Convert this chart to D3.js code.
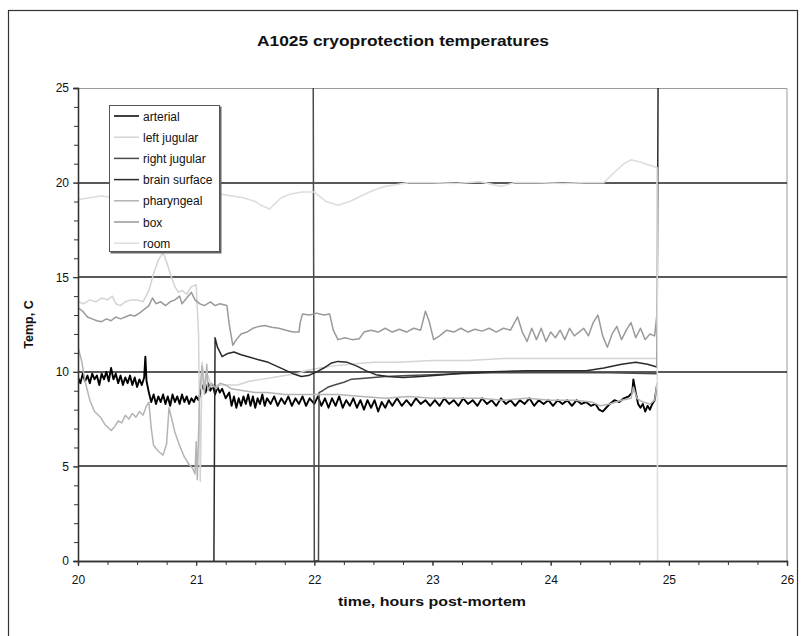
<!DOCTYPE html>
<html>
<head>
<meta charset="utf-8">
<script src="https://cdn.jsdelivr.net/npm/d3@7"></script>
<style>
  body { margin: 0; background: #fff; }
  text { font-family: "Liberation Sans", Arial, sans-serif; fill: #111; }
</style>
</head>
<body>
<div id="chart"></div>
<script>
// series names in legend order
var seriesNames = ["arterial", "left jugular", "right jugular", "brain surface", "pharyngeal", "box", "room"];

// [hours post-mortem, temp C]
var arterial = [[20.00,9.7],[20.02,9.4],[20.04,9.9],[20.06,9.5],[20.08,9.8],[20.10,9.4],[20.12,9.9],[20.14,9.6],[20.16,9.8],[20.18,9.3],
  [20.20,9.9],[20.22,9.6],[20.24,10.0],[20.26,9.5],[20.28,10.2],[20.30,9.6],[20.32,9.9],[20.34,9.4],[20.36,9.8],[20.38,9.3],
  [20.40,9.7],[20.42,9.4],[20.44,9.8],[20.46,9.3],[20.48,9.7],[20.50,9.2],[20.52,9.6],[20.54,9.3],[20.56,9.7],[20.57,10.8],
  [20.58,9.5],[20.60,8.9],[20.62,8.4],[20.64,8.8],[20.66,8.3],[20.68,8.7],[20.70,8.4],[20.72,8.8],[20.74,8.3],[20.76,8.7],
  [20.78,8.2],[20.80,8.8],[20.82,8.4],[20.84,8.7],[20.86,8.3],[20.88,8.8],[20.90,8.4],[20.92,8.7],[20.94,8.3],[20.96,8.6],
  [20.98,8.4],[21.00,8.7],[21.02,8.5],[21.04,9.0],[21.06,9.3],[21.08,8.9],[21.10,9.4],[21.12,9.0],[21.14,9.3],[21.16,8.8],
  [21.18,9.2],[21.20,8.9],[21.22,9.1],[21.25,8.6],[21.28,8.9],[21.30,8.2],[21.32,8.7],[21.34,8.1],[21.36,8.6],[21.38,8.2],
  [21.40,8.7],[21.42,8.3],[21.44,8.8],[21.46,8.2],[21.48,8.7],[21.50,8.1],[21.52,8.6],[21.54,8.3],[21.56,8.8],[21.58,8.2],
  [21.60,8.6],[21.63,8.3],[21.66,8.7],[21.69,8.2],[21.72,8.6],[21.75,8.3],[21.78,8.7],[21.81,8.2],[21.84,8.6],[21.87,8.3],
  [21.90,8.7],[21.93,8.2],[21.96,8.6],[22.00,8.3],[22.03,8.7],[22.06,8.2],[22.09,8.6],[22.12,8.1],[22.15,8.6],[22.18,8.2],
  [22.21,8.7],[22.24,8.1],[22.27,8.5],[22.30,8.2],[22.33,8.6],[22.36,8.1],[22.39,8.5],[22.42,8.0],[22.45,8.5],[22.48,8.1],
  [22.51,8.5],[22.54,7.9],[22.57,8.4],[22.60,8.1],[22.63,8.5],[22.66,8.2],[22.70,8.6],[22.74,8.2],[22.78,8.5],[22.82,8.2],
  [22.86,8.6],[22.90,8.3],[22.94,8.5],[22.98,8.2],[23.02,8.5],[23.06,8.2],[23.10,8.6],[23.14,8.3],[23.18,8.5],[23.22,8.2],
  [23.26,8.6],[23.30,8.3],[23.34,8.5],[23.38,8.2],[23.42,8.6],[23.46,8.3],[23.50,8.5],[23.54,8.2],[23.58,8.6],[23.62,8.3],
  [23.66,8.5],[23.70,8.2],[23.74,8.5],[23.78,8.3],[23.82,8.6],[23.86,8.2],[23.90,8.5],[23.94,8.3],[23.98,8.5],[24.02,8.2],
  [24.06,8.5],[24.10,8.3],[24.14,8.5],[24.18,8.2],[24.22,8.5],[24.26,8.3],[24.30,8.4],[24.34,8.2],[24.38,8.3],[24.41,8.0],
  [24.44,7.9],[24.47,8.1],[24.50,8.3],[24.54,8.5],[24.58,8.4],[24.62,8.6],[24.66,8.7],[24.69,8.9],[24.70,9.6],[24.72,8.9],
  [24.74,8.3],[24.76,8.1],[24.78,8.3],[24.80,7.9],[24.82,8.2],[24.84,8.0],[24.86,8.3],[24.88,8.5],[24.90,9.3]];

var leftJugular = [[20.00,13.7],[20.05,13.6],[20.10,13.8],[20.15,13.7],[20.20,13.9],[20.25,13.8],[20.29,14.0],[20.32,13.6],
  [20.36,13.5],[20.40,13.7],[20.45,13.8],[20.50,13.8],[20.55,13.7],[20.60,14.3],[20.64,15.2],[20.68,15.9],[20.72,16.3],
  [20.75,15.8],[20.78,15.2],[20.82,14.5],[20.85,14.2],[20.88,14.3],[20.92,14.1],[20.96,14.5],[21.00,14.6],[21.02,12.0],
  [21.035,4.2],[21.05,10.5],[21.07,9.4],[21.10,9.8],[21.13,9.2],[21.18,9.3],[21.25,9.3],[21.35,9.3],[21.45,9.5],[21.55,9.6],
  [21.65,9.7],[21.75,9.8],[21.85,9.9],[21.95,10.1],[22.05,10.2],[22.15,10.3],[22.30,10.4],[22.50,10.5],[22.70,10.5],
  [23.00,10.6],[23.30,10.6],[23.60,10.7],[24.00,10.7],[24.30,10.7],[24.60,10.7],[24.90,10.7]];

var rightJugular = [[21.99,27],[22.00,0],[22.035,0],[22.04,8.9],[22.07,9.0],[22.12,9.2],[22.17,9.3],[22.25,9.45],[22.31,9.6],
  [22.40,9.65],[22.50,9.7],[22.60,9.75],[22.80,9.8],[23.00,9.85],[23.20,9.9],[23.50,9.95],[24.00,9.95],[24.50,9.95],[24.90,9.9]];

var brainSurface = [[21.15,0],[21.16,11.8],[21.18,11.3],[21.22,10.8],[21.26,10.95],[21.32,11.05],[21.38,10.9],[21.44,10.8],
  [21.52,10.65],[21.61,10.5],[21.68,10.3],[21.75,10.1],[21.82,9.9],[21.89,9.75],[21.95,9.8],[22.02,10.0],[22.08,10.2],
  [22.14,10.45],[22.20,10.55],[22.28,10.5],[22.36,10.3],[22.44,10.05],[22.52,9.85],[22.62,9.75],[22.75,9.7],[22.90,9.75],
  [23.10,9.85],[23.30,9.95],[23.50,10.0],[23.80,10.05],[24.10,10.05],[24.30,10.05],[24.45,10.2],[24.60,10.4],[24.72,10.5],
  [24.82,10.4],[24.90,10.25],[24.91,27]];

var pharyngeal = [[20.00,11.3],[20.03,10.6],[20.06,9.5],[20.10,8.5],[20.14,7.9],[20.19,7.6],[20.23,7.2],[20.28,6.9],[20.31,7.1],
  [20.34,7.4],[20.37,7.3],[20.40,7.7],[20.43,7.5],[20.46,7.8],[20.49,7.6],[20.52,7.9],[20.55,7.7],[20.58,8.2],[20.60,8.4],
  [20.62,7.0],[20.64,6.1],[20.68,5.8],[20.72,5.6],[20.75,6.2],[20.77,8.1],[20.79,7.6],[20.82,6.8],[20.86,6.1],[20.90,5.5],
  [20.94,5.1],[20.97,4.9],[20.99,4.6],[21.00,6.3],[21.01,4.3],[21.03,9.0],[21.05,10.3],[21.07,8.8],[21.09,10.4],[21.10,9.0],
  [21.13,9.4],[21.17,9.1],[21.20,9.4],[21.25,9.3],[21.30,9.1],[21.40,9.0],[21.50,8.9],[21.60,8.9],[21.75,8.8],[21.90,8.8],
  [22.00,8.8],[22.20,8.8],[22.40,8.7],[22.60,8.6],[22.80,8.7],[23.00,8.6],[23.20,8.6],[23.40,8.6],[23.60,8.5],[23.80,8.6],
  [24.00,8.5],[24.20,8.5],[24.35,8.4],[24.42,8.2],[24.50,8.3],[24.60,8.5],[24.68,8.6],[24.70,9.2],[24.73,8.6],[24.78,8.4],
  [24.84,8.3],[24.88,8.5],[24.90,9.4]];

var box = [[20.00,13.4],[20.04,13.2],[20.08,12.9],[20.12,12.8],[20.16,12.7],[20.20,12.65],[20.24,12.8],[20.28,12.7],[20.32,12.9],
  [20.36,12.8],[20.40,12.9],[20.44,13.0],[20.48,12.95],[20.52,13.1],[20.56,13.3],[20.60,13.5],[20.63,13.9],[20.66,13.6],
  [20.70,13.7],[20.74,13.5],[20.78,13.7],[20.82,13.8],[20.86,14.0],[20.88,13.6],[20.92,13.9],[20.96,14.2],[20.99,13.8],
  [21.03,13.6],[21.07,13.5],[21.12,13.7],[21.16,13.5],[21.20,13.6],[21.26,13.5],[21.28,12.5],[21.31,11.4],[21.34,11.7],
  [21.38,12.0],[21.43,12.1],[21.48,12.3],[21.53,12.4],[21.58,12.45],[21.64,12.35],[21.70,12.3],[21.76,12.2],[21.82,12.1],
  [21.87,12.1],[21.88,12.6],[21.90,13.05],[21.96,13.0],[22.02,13.1],[22.08,13.0],[22.13,13.05],[22.16,12.2],[22.20,11.7],
  [22.26,11.8],[22.32,11.7],[22.38,11.75],[22.42,12.1],[22.48,12.2],[22.54,12.1],[22.60,12.3],[22.66,12.1],[22.72,12.25],
  [22.78,12.1],[22.84,12.3],[22.90,12.2],[22.94,13.2],[22.97,12.7],[23.01,11.7],[23.06,11.9],[23.12,12.2],[23.18,12.1],
  [23.24,12.3],[23.30,12.1],[23.36,12.25],[23.42,12.15],[23.48,12.3],[23.54,12.1],[23.60,12.3],[23.66,12.2],[23.72,12.9],
  [23.76,12.1],[23.80,11.6],[23.84,12.3],[23.88,11.7],[23.92,12.3],[23.96,11.6],[24.00,12.1],[24.04,11.8],[24.08,12.2],
  [24.12,11.7],[24.16,12.3],[24.20,11.9],[24.24,12.1],[24.28,12.3],[24.32,11.9],[24.36,12.6],[24.40,13.0],[24.44,11.9],
  [24.48,11.3],[24.52,12.0],[24.56,12.4],[24.60,11.7],[24.64,12.2],[24.68,12.6],[24.72,11.8],[24.76,12.3],[24.80,11.7],
  [24.84,12.0],[24.88,11.9],[24.90,13.1]];

var room = [[20.00,19.1],[20.10,19.2],[20.20,19.3],[20.30,19.2],[20.40,19.4],[20.50,19.3],[20.60,19.5],[20.70,19.4],[20.80,19.5],
  [21.00,19.5],[21.10,19.3],[21.20,19.4],[21.30,19.3],[21.40,19.2],[21.50,19.0],[21.55,18.8],[21.62,18.6],[21.67,18.9],
  [21.72,19.2],[21.80,19.4],[21.90,19.5],[22.00,19.5],[22.10,19.0],[22.20,18.8],[22.30,19.0],[22.40,19.3],[22.50,19.6],
  [22.60,19.8],[22.70,19.9],[22.80,20.0],[23.00,20.0],[23.20,19.95],[23.40,20.05],[23.58,19.8],[23.70,20.0],[23.90,20.0],
  [24.10,19.95],[24.30,20.0],[24.45,20.0],[24.55,20.6],[24.62,21.0],[24.68,21.2],[24.75,21.1],[24.82,20.95],[24.90,20.8],
  [24.905,0]];

var seriesData = [arterial, leftJugular, rightJugular, brainSurface, pharyngeal, box, room];
var seriesColors = ["#000000", "#d4d4d4", "#4a4a4a", "#2a2a2a", "#b4b4b4", "#9a9a9a", "#dedede"];
var seriesWidths = [1.9, 1.5, 1.5, 1.5, 1.5, 1.5, 1.6];

var xTicks = [20, 21, 22, 23, 24, 25, 26];
var yTicks = [0, 5, 10, 15, 20, 25];

var W = 805, H = 636;
var margin = {top: 88, right: 18, bottom: 75, left: 78},
    width = W - margin.left - margin.right,
    height = H - margin.top - margin.bottom;

var svg = d3.select("#chart").append("svg")
    .attr("width", W)
    .attr("height", H);

svg.append("rect").attr("width", W).attr("height", H).attr("fill", "#fff");
// chart area border
svg.append("rect")
    .attr("x", 8.5).attr("y", 10.5)
    .attr("width", 789).attr("height", 700)
    .attr("fill", "none").attr("stroke", "#333").attr("stroke-width", 1.2);

var g = svg.append("g")
    .attr("transform", "translate(" + margin.left + "," + margin.top + ")");

var x = d3.scaleLinear().domain([20, 26]).range([0, width]);
var y = d3.scaleLinear().domain([0, 25]).range([height, 0]);

// plot frame (top and right)
g.append("path")
    .attr("d", "M0,0.5H" + width + "V" + height)
    .attr("fill", "none").attr("stroke", "#9a9a9a");

// gridlines
g.selectAll(".grid")
  .data(yTicks.filter(function(d) { return d > 0 && d < 25; }))
  .enter().append("line")
    .attr("class", "grid")
    .attr("x1", 0).attr("x2", width)
    .attr("y1", function(d) { return Math.round(y(d)); })
    .attr("y2", function(d) { return Math.round(y(d)); })
    .attr("stroke", "#222").attr("stroke-width", 1.6);

g.append("clipPath").attr("id", "clip")
  .append("rect").attr("x", 0).attr("y", 0).attr("width", width).attr("height", height);

var line = d3.line()
    .x(function(d) { return x(d[0]); })
    .y(function(d) { return y(d[1]); });

var plot = g.append("g").attr("clip-path", "url(#clip)");
plot.selectAll(".series")
  .data(seriesData)
  .enter().append("path")
    .attr("class", "series")
    .attr("fill", "none")
    .attr("stroke", function(d, i) { return seriesColors[i]; })
    .attr("stroke-width", function(d, i) { return seriesWidths[i]; })
    .attr("stroke-linejoin", "round")
    .attr("d", line);

// axes
var yAxis = g.append("g")
    .call(d3.axisLeft(y).tickValues(d3.range(0, 26, 1)).tickSize(4).tickFormat(""));
var yAxisMajor = g.append("g")
    .call(d3.axisLeft(y).tickValues(yTicks).tickSize(5).tickPadding(4).tickFormat(d3.format("d")));
var xAxis = g.append("g")
    .attr("transform", "translate(0," + height + ")")
    .call(d3.axisBottom(x).tickValues(d3.range(20, 26.01, 0.25)).tickSize(4).tickFormat(""));
var xAxisMajor = g.append("g")
    .attr("transform", "translate(0," + height + ")")
    .call(d3.axisBottom(x).tickValues(xTicks).tickSize(5).tickPadding(9).tickFormat(d3.format("d")));

[yAxis, yAxisMajor, xAxis, xAxisMajor].forEach(function(a) {
  a.select(".domain").attr("stroke", "#333").attr("stroke-width", 1.3);
  a.selectAll(".tick line").attr("stroke", "#333");
  a.selectAll("text").style("font-family", "'Liberation Sans', Arial, sans-serif")
    .style("font-size", "12px").attr("fill", "#111");
});

// titles
svg.append("text")
    .attr("x", 403).attr("y", 46)
    .attr("text-anchor", "middle")
    .attr("textLength", 292).attr("lengthAdjust", "spacingAndGlyphs")
    .style("font-size", "15px").style("font-weight", "bold")
    .text("A1025 cryoprotection temperatures");

svg.append("text")
    .attr("x", 432).attr("y", 606)
    .attr("text-anchor", "middle")
    .attr("textLength", 188).attr("lengthAdjust", "spacingAndGlyphs")
    .style("font-size", "13px").style("font-weight", "bold")
    .text("time, hours post-mortem");

svg.append("text")
    .attr("transform", "translate(33," + (margin.top + height / 2) + ") rotate(-90)")
    .attr("text-anchor", "middle")
    .style("font-size", "12.5px").style("font-weight", "bold")
    .text("Temp, C");

// legend
var legend = svg.append("g").attr("transform", "translate(109,105)");
legend.append("rect")
    .attr("x", 1.5).attr("y", 1.5).attr("width", 111).attr("height", 147)
    .attr("fill", "#666");
legend.append("rect")
    .attr("x", 0.5).attr("y", 0.5).attr("width", 110).attr("height", 146)
    .attr("fill", "#fff").attr("stroke", "#555").attr("stroke-width", 1);

var item = legend.selectAll(".item")
  .data(seriesNames)
  .enter().append("g")
    .attr("class", "item")
    .attr("transform", function(d, i) { return "translate(0," + (11 + i * 21.2) + ")"; });
item.append("line")
    .attr("x1", 5).attr("x2", 30)
    .attr("stroke", function(d, i) { return seriesColors[i]; })
    .attr("stroke-width", 1.5);
item.append("text")
    .attr("x", 34).attr("y", 4.5)
    .style("font-size", "12px").attr("fill", "#222")
    .text(function(d) { return d; });
</script>
</body>
</html>
